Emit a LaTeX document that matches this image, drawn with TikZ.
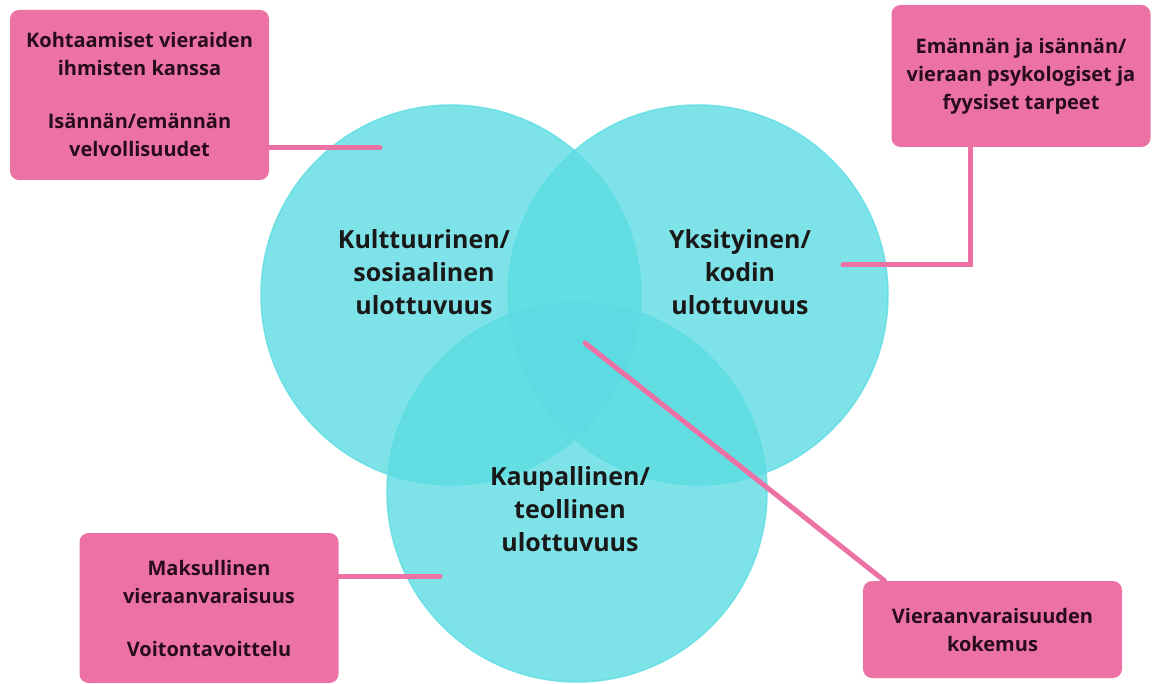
\documentclass[tikz,border=0pt]{standalone}
\usepackage{fontspec}
\setmainfont{Open Sans}
\usetikzlibrary{positioning}

\definecolor{zonecol}{RGB}{91,220,226}
\definecolor{notecol}{RGB}{236,114,166}
\definecolor{notetext}{RGB}{40,12,28}

\tikzset{
	zone/.style={circle, minimum size=380pt, inner sep=0pt, fill=zonecol, draw=zonecol, line width=1.5pt, opacity=0.79},
	zonetext/.style={align=center, text=black!90, font=\fontsize{25}{33}\selectfont\bfseries},
	note/.style={rectangle, rounded corners=9pt, fill=notecol, text=notetext, align=center, minimum width=259pt, font=\fontsize{20}{28}\selectfont\bfseries},
	link/.style={draw=notecol, line width=5pt, line cap=round}
}

\begin{document}
\begin{tikzpicture}[x=1pt, y=-1pt]
	\useasboundingbox (0,0) rectangle (1152,684);
	% Circles and their labels:
	\node[zone] (kult) at (451,295) {};
	\node[zone] (koti) at (698,295) {};
	\node[zone] (kaup) at (577,492) {};
	\node[zonetext] (kulttxt) at (424,272) {Kulttuurinen/\\sosiaalinen\\ulottuvuus};
	\node[zonetext] (kotitxt) at (740,272) {Yksityinen/\\kodin\\ulottuvuus};
	\node[zonetext] (kauptxt) at (570,509) {Kaupallinen/\\teollinen\\ulottuvuus};
	% Connector ends:
	\coordinate (k1) at (380,148);
	\coordinate (k2) at (843,265);
	\coordinate (k3) at (440,576);
	\coordinate (k4) at (585,343);
	% Boxes:
	\node[note, minimum height=170pt] (note1) at (139.5,95) {Kohtaamiset vieraiden\\ihmisten kanssa\\[25pt]Isännän/emännän\\velvollisuudet};
	\node[note, minimum height=142pt] (note2) at (1021,76) {Emännän ja isännän/\\vieraan psykologiset ja\\fyysiset tarpeet};
	\node[note, minimum height=150pt] (note3) at (209,608) {Maksullinen\\vieraanvaraisuus\\[25pt]Voitontavoittelu};
	\node[note, minimum height=97pt] (note4) at (992.5,629.5) {Vieraanvaraisuuden\\kokemus};
	% Wires:
	\draw[link] (k1 -| note1.east) -- (k1);
	\draw[link] ([xshift=-51pt]note2.south) |- (k2);
	\draw[link] (k3 -| note3.east) -- (k3);
	\draw[link] ([xshift=-108pt]note4.north) -- (k4);
\end{tikzpicture}
\end{document}
